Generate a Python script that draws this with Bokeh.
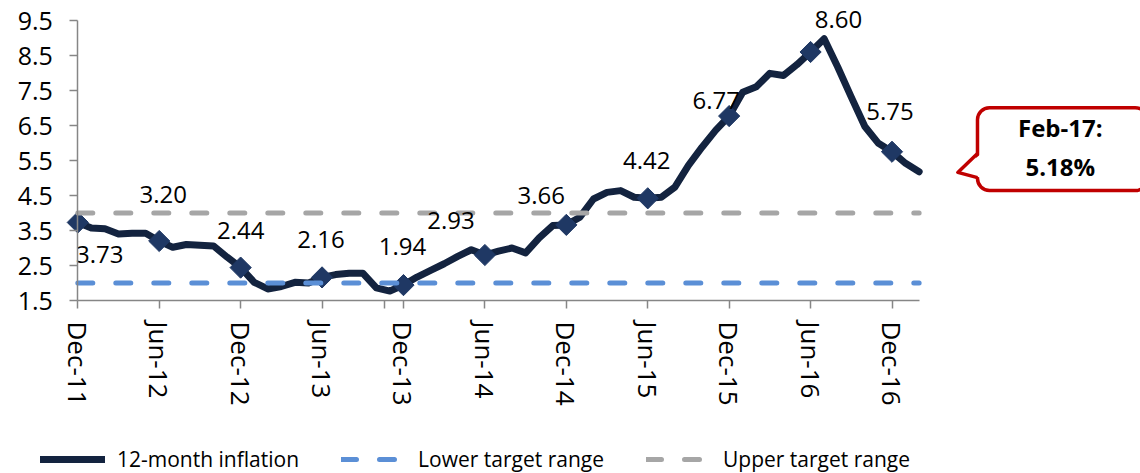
import numpy as np
from bokeh.plotting import figure
from bokeh.models import Legend, LegendItem, FixedTicker, BoxAnnotation, Range1d
from bokeh.core.properties import value
from bokeh.embed import file_html
from bokeh.resources import INLINE

# ---- data (Dec-11 .. Feb-17, monthly) ----
month_labels = ["Dec-11", "Jun-12", "Dec-12", "Jun-13", "Dec-13", "Jun-14",
                "Dec-14", "Jun-15", "Dec-15", "Jun-16", "Dec-16"]
last_month = "Feb-17"
inflation = [3.73, 3.57, 3.55, 3.40, 3.42, 3.42, 3.20, 3.02, 3.10, 3.08, 3.06, 2.74,
             2.44, 2.02, 1.83, 1.90, 2.02, 2.00, 2.16, 2.24, 2.28, 2.28, 1.86, 1.77,
             1.94, 2.17, 2.36, 2.55, 2.76, 2.95, 2.80, 2.91, 3.00, 2.86, 3.29, 3.64,
             3.66, 3.88, 4.40, 4.59, 4.64, 4.45, 4.42, 4.45, 4.74, 5.36, 5.88, 6.36,
             6.77, 7.45, 7.61, 7.99, 7.93, 8.24, 8.60, 8.98, 8.17, 7.31, 6.47, 5.99,
             5.75, 5.42, 5.18]
lower_target = 2.0
upper_target = 4.0
point_labels = ["3.73", "3.20", "2.44", "2.16", "1.94", "2.93", "3.66", "4.42",
                "6.77", "8.60", "5.75"]
y_ticks = [1.5, 2.5, 3.5, 4.5, 5.5, 6.5, 7.5, 8.5, 9.5]
y_tick_labels = ["1.5", "2.5", "3.5", "4.5", "5.5", "6.5", "7.5", "8.5", "9.5"]
stray_tick = 22.6   # unlabeled tick mark seen on the original axis

# label offsets (screen px) - style only
label_dx = [22, 4, 0, -1, -1, -34, -25, -1, -13, 28, -2]
label_dy = [32, -47, -37, -38, -39, -35, -29, -38, -16, -33, -40]

x = list(range(len(inflation)))
step = 6
mk_x = x[::step]
mk_y = inflation[::step]
tick_pos = mk_x
n_last = x[-1]
y_lo, y_hi = y_ticks[0], y_ticks[-1]

NAVY = "#13233f"
MARK = "#1f3864"
BLUE = "#5b8fd6"
GRAY = "#a6a6a6"
RED = "#c00000"
AX = "#868686"
FONT = "Open Sans"

W, H = 1140, 473
PX_X = 13.57          # px per month
PX_Y = 35.0           # px per unit
ORG_X, ORG_Y = 77.3, 300.0   # screen position of (0, y_lo)
x0 = -ORG_X / PX_X
x1 = x0 + W / PX_X
y1 = y_lo + ORG_Y / PX_Y
y0 = y1 - H / PX_Y

p = figure(width=W, height=H, x_range=Range1d(x0, x1), y_range=Range1d(y0, y1),
           output_backend="svg", toolbar_location=None, min_border=0)
p.outline_line_color = None
p.xgrid.visible = False
p.ygrid.visible = False
p.background_fill_color = "white"
p.border_fill_color = "white"

# axes
xa = p.xaxis[0]
xa.fixed_location = y_lo
xa.ticker = FixedTicker(ticks=tick_pos + [stray_tick])
overrides = {t: l for t, l in zip(tick_pos, month_labels)}
overrides[stray_tick] = ""
xa.major_label_overrides = overrides
xa.bounds = (0, n_last)
xa.major_label_orientation = "vertical"
xa.major_label_text_font = FONT
xa.major_label_text_font_size = "26px"
xa.major_label_text_color = "black"
xa.major_label_standoff = 13
ya = p.yaxis[0]
ya.fixed_location = 0
ya.bounds = (y_lo, y_hi)
ya.ticker = FixedTicker(ticks=y_ticks)
ya.major_label_overrides = {t: l for t, l in zip(y_ticks, y_tick_labels)}
ya.major_label_text_font = FONT
ya.major_label_text_font_size = "25px"
ya.major_label_text_color = "black"
ya.major_label_standoff = 17
for a in (xa, ya):
    a.axis_line_color = AX
    a.axis_line_width = 1.5
    a.major_tick_line_color = AX
    a.major_tick_line_width = 1.5
    a.major_tick_out = 8
    a.major_tick_in = 0
    a.minor_tick_line_color = None

# main series
r_inf = p.line(x, inflation, line_width=7, line_color=NAVY,
               line_join="round", line_cap="round")
p.scatter(mk_x, mk_y, marker="square", angle=np.pi / 4, size=15,
          fill_color=MARK, line_color=MARK)

# target range lines
r_low = p.line([0, n_last], [lower_target, lower_target], line_width=5,
               line_color=BLUE, line_dash="15 23", line_cap="round")
r_up = p.line([0, n_last], [upper_target, upper_target], line_width=5,
              line_color=GRAY, line_dash="15 23", line_cap="round")

# data labels
p.text(mk_x, mk_y, text=point_labels, x_offset=label_dx, y_offset=label_dy,
       text_font=value(FONT), text_font_size="24px", text_color="black",
       text_align="center", text_baseline="middle")

# callout box for the last value
lx, ly = n_last, inflation[-1]
box_l, box_r = lx + 4.3, lx + 16.8
box_t, box_b = ly + 1.83, ly - 0.54
p.add_layout(BoxAnnotation(left=box_l, right=box_r, top=box_t, bottom=box_b,
                           fill_color="white", fill_alpha=1.0,
                           line_color=RED, line_alpha=1.0, line_width=3.5,
                           border_radius=12))
tip_x = lx + 2.85
base_t, base_b = ly + 0.52, ly - 0.17
p.patch([box_l + 0.3, tip_x, box_l + 0.3], [base_t, ly - 0.02, base_b],
        fill_color="white", line_color=None, level="overlay")
p.line([box_l, tip_x, box_l], [base_t, ly - 0.02, base_b], line_color=RED,
       line_width=3.5, line_join="round", level="overlay")
cx = (box_l + box_r) / 2 - 0.15
p.text([cx, cx], [ly + 1.25, ly + 0.14],
       text=[f"{last_month}:", f"{inflation[-1]:.2f}%"],
       text_font=value(FONT), text_font_size="24px", text_font_style="bold",
       text_color="black", text_align="center", text_baseline="middle",
       level="overlay")

# legend
legend = Legend(items=[LegendItem(label="12-month inflation", renderers=[r_inf]),
                       LegendItem(label="Lower target range", renderers=[r_low]),
                       LegendItem(label="Upper target range", renderers=[r_up])],
                orientation="horizontal", location=(40, 0),
                padding=0, margin=0, spacing=42, glyph_width=65, glyph_height=20,
                label_standoff=12, label_text_font=FONT,
                label_text_font_size="21px", label_text_color="black",
                border_line_alpha=0, background_fill_alpha=0)
p.add_layout(legend)

open("out.html", "w").write(file_html(p, INLINE))
